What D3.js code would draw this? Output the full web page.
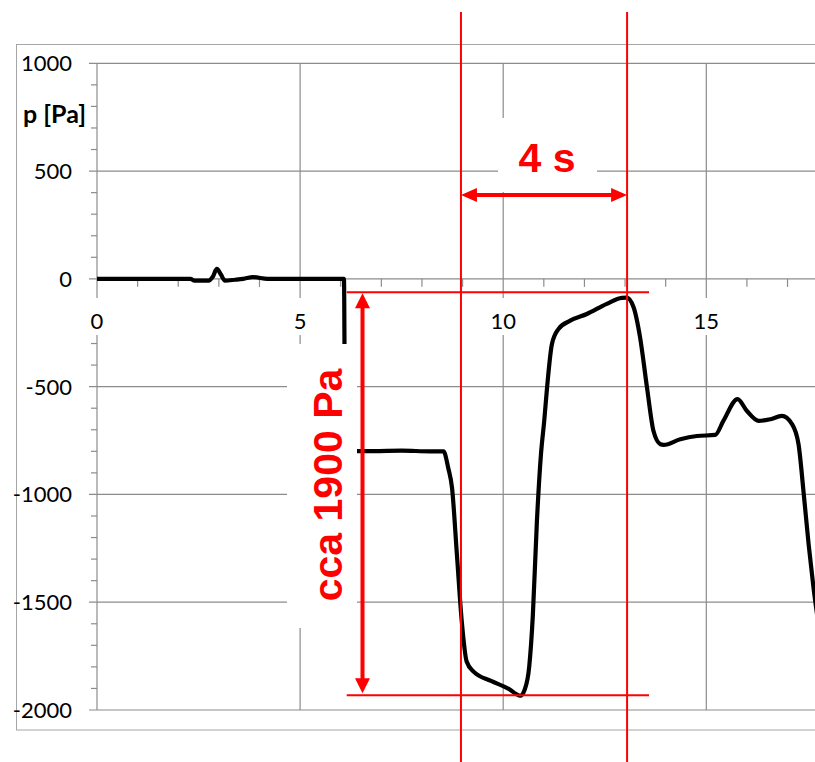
<!DOCTYPE html>
<html>
<head>
<meta charset="utf-8">
<script src="https://cdn.jsdelivr.net/npm/d3@7"></script>
<style>
  body { margin: 0; background: #fff; }
  .tick-label { font-family: Lato, "Open Sans", sans-serif; font-size: 22px; fill: #000; }
  .note { font-family: "Liberation Sans", Arial, sans-serif; font-weight: bold; font-size: 41px; fill: #ff0000; }
</style>
</head>
<body>
<div id="chart"></div>
<script>
// pressure trace: time [s] and pressure [Pa]
var times = [0, 1, 2.3, 2.4, 2.75, 2.85, 2.95, 3.05, 3.15, 3.4, 3.6, 3.84, 4.2, 5, 6.08, 6.11,
  6.8, 7.5, 8.2, 8.53, 8.65, 8.74, 8.86, 8.98, 9.1, 9.27, 9.7, 10.17, 10.32, 10.42, 10.53, 10.64, 10.73,
  10.83, 10.93, 11.01, 11.08, 11.2, 11.36, 11.65, 12.06, 12.55, 12.92, 13.04, 13.21, 13.37,
  13.54, 13.7, 13.87, 13.95, 14.36, 14.77, 15.22, 15.42, 15.77, 16.0, 16.29, 16.58, 16.86,
  17.11, 17.27, 17.4, 17.52, 17.64, 17.8];
var pressures = [0, 0, 0, -8, -8, 10, 46, 20, -8, -4, 0, 8, 0, 0, 0, -799,
  -799, -797, -800, -800, -880, -969, -1278, -1589, -1775, -1822, -1865, -1906, -1926, -1934, -1905, -1800, -1560,
  -1124, -813, -659, -504, -302, -233, -194, -163, -116, -88, -87, -132, -272,
  -504, -706, -767, -770, -744, -729, -724, -659, -558, -613, -659, -651, -636,
  -674, -767, -1000, -1233, -1434, -1650];

var xTicks = [0, 5, 10, 15];
var yTicks = [-2000, -1500, -1000, -500, 0, 500, 1000];

// annotations (data units)
var markTimes = [8.96, 13.05];      // the "4 s" window
var markLevels = [-62, -1932];      // the "cca 1900 Pa" span

var W = 815, H = 762;
var svg = d3.select("#chart").append("svg").attr("width", W).attr("height", H);

var x = d3.scaleLinear().domain([0, 20]).range([97, 909.4]);
var y = d3.scaleLinear().domain([-2000, 1000]).range([710, 63.3]);
var x0 = x(0), y0 = y(0);

// chart area border
svg.append("rect").attr("x", 16.5).attr("y", 44.5).attr("width", 900).attr("height", 685.5)
  .attr("fill", "none").attr("stroke", "#a6a6a6").attr("stroke-width", 1);

var grid = svg.append("g").attr("stroke", "#8c8c8c").attr("stroke-width", 1.2);
grid.selectAll(".hg").data(yTicks).enter().append("line")
  .attr("x1", 89).attr("x2", W).attr("y1", function (d) { return y(d); }).attr("y2", function (d) { return y(d); });
grid.selectAll(".vg").data(xTicks).enter().append("line")
  .attr("x1", function (d) { return x(d); }).attr("x2", function (d) { return x(d); })
  .attr("y1", y(1000)).attr("y2", y(-2000));

// minor ticks
var yMinor = d3.range(-2000, 1001, 100).filter(function (d) { return d % 500 !== 0; });
var xMinor = d3.range(1, 20, 1).filter(function (d) { return d % 5 !== 0; });
grid.selectAll(".ym").data(yMinor).enter().append("line")
  .attr("x1", 91).attr("x2", x0).attr("y1", function (d) { return y(d); }).attr("y2", function (d) { return y(d); });
grid.selectAll(".xm").data(xMinor).enter().append("line")
  .attr("x1", function (d) { return x(d); }).attr("x2", function (d) { return x(d); })
  .attr("y1", y0).attr("y2", y0 + 8);

// white band behind x labels
svg.append("rect").attr("x", 89).attr("y", 298).attr("width", W).attr("height", 37).attr("fill", "#fff");

svg.selectAll(".yl").data(yTicks).enter().append("text")
  .attr("class", "tick-label").attr("text-anchor", "end")
  .attr("x", 72).attr("y", function (d) { return y(d) + 8; })
  .text(function (d) { return String(d); });
svg.selectAll(".xl").data(xTicks).enter().append("text")
  .attr("class", "tick-label").attr("text-anchor", "middle")
  .attr("x", function (d) { return x(d); }).attr("y", 329)
  .text(function (d) { return String(d); });
svg.append("text").attr("class", "tick-label").attr("text-anchor", "end")
  .attr("x", 86).attr("y", 123).style("font-weight", "bold").style("font-size", "25px").text("p [Pa]");

// curve
svg.append("clipPath").attr("id", "plot").append("rect")
  .attr("x", x0).attr("y", y(1000)).attr("width", W - x0).attr("height", y(-2000) - y(1000));
var pts = times.map(function (t, i) { return [t, pressures[i]]; });
var line = d3.line().x(function (d) { return x(d[0]); }).y(function (d) { return y(d[1]); })
  .curve(d3.curveMonotoneX);
svg.append("path").datum(pts).attr("clip-path", "url(#plot)")
  .attr("d", line).attr("fill", "none").attr("stroke", "#000").attr("stroke-width", 4.2)
  .attr("stroke-linejoin", "round");

// white boxes of the annotation texts
svg.append("rect").attr("x", 287).attr("y", 344).attr("width", 70).attr("height", 284).attr("fill", "#fff");
svg.append("rect").attr("x", 498).attr("y", 118).attr("width", 99).attr("height", 74).attr("fill", "#fff");

// red annotations
var red = "#ff0000";
var ann = svg.append("g");
ann.selectAll(".vr").data(markTimes).enter().append("line")
  .attr("x1", function (d) { return x(d); }).attr("x2", function (d) { return x(d); })
  .attr("y1", 12).attr("y2", H).attr("stroke", red).attr("stroke-width", 2);
ann.selectAll(".hr").data(markLevels).enter().append("line")
  .attr("x1", 346.7).attr("x2", 649).attr("y1", function (d) { return y(d); }).attr("y2", function (d) { return y(d); })
  .attr("stroke", red).attr("stroke-width", 2);

// horizontal double arrow
var ay = 195, ax1 = x(markTimes[0]), ax2 = x(markTimes[1]);
ann.append("line").attr("x1", ax1 + 10).attr("x2", ax2 - 10).attr("y1", ay).attr("y2", ay)
  .attr("stroke", red).attr("stroke-width", 4);
ann.append("path").attr("fill", red)
  .attr("d", "M" + ax1 + "," + ay + "L" + (ax1 + 16) + "," + (ay - 7) + "L" + (ax1 + 16) + "," + (ay + 7) + "Z" +
    "M" + ax2 + "," + ay + "L" + (ax2 - 16) + "," + (ay - 7) + "L" + (ax2 - 16) + "," + (ay + 7) + "Z");

// vertical double arrow
var vx = 362.5, vy1 = y(markLevels[0]) + 1, vy2 = y(markLevels[1]) - 2;
ann.append("line").attr("x1", vx).attr("x2", vx).attr("y1", vy1 + 10).attr("y2", vy2 - 10)
  .attr("stroke", red).attr("stroke-width", 4);
ann.append("path").attr("fill", red)
  .attr("d", "M" + vx + "," + vy1 + "L" + (vx - 7.5) + "," + (vy1 + 15) + "L" + (vx + 7.5) + "," + (vy1 + 15) + "Z" +
    "M" + vx + "," + vy2 + "L" + (vx - 7.5) + "," + (vy2 - 15) + "L" + (vx + 7.5) + "," + (vy2 - 15) + "Z");

ann.append("text").attr("class", "note").attr("text-anchor", "middle")
  .attr("x", 547).attr("y", 172).text("4 s");
ann.append("text").attr("class", "note").attr("text-anchor", "middle")
  .attr("transform", "translate(342,485) rotate(-90)").text("cca 1900 Pa");
</script>
</body>
</html>
